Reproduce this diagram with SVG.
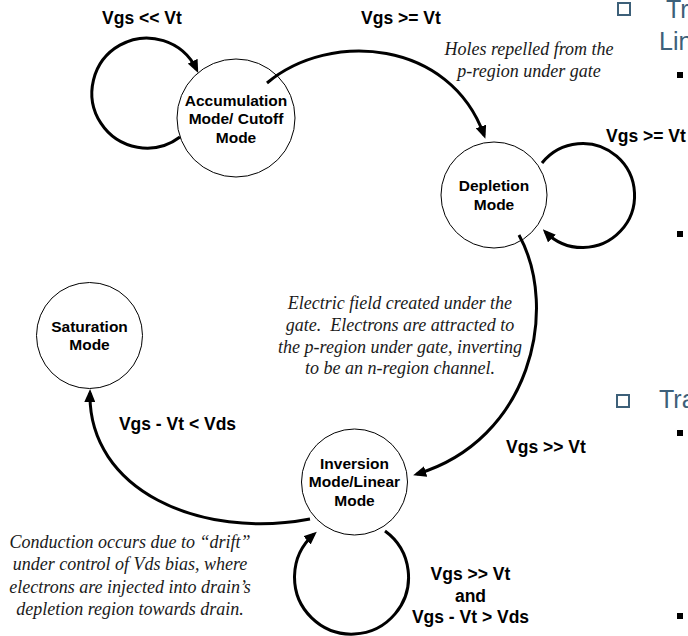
<svg xmlns="http://www.w3.org/2000/svg" width="688" height="636" viewBox="0 0 688 636">
<style>
.bg{fill:#fff}
.node circle{fill:none;stroke:#000;stroke-width:1}
.nt{font-family:"Liberation Sans",Arial,sans-serif;font-weight:bold;font-size:15.5px;text-anchor:middle;fill:#000}
.lbl{font-family:"Liberation Sans",Arial,sans-serif;font-weight:bold;font-size:17.5px;text-anchor:middle;fill:#000}
.note{font-family:"Liberation Serif","Times New Roman",serif;font-style:italic;font-size:18px;text-anchor:middle;fill:#1a1a1a}
.conn path{fill:none;stroke:#000;stroke-width:3}
.slide{font-family:"Liberation Sans",Arial,sans-serif;font-size:25px;fill:#3d6079}
.hb{fill:#fff;stroke:#3d6079;stroke-width:2}
.sb{fill:#000}
</style>
<defs>
<marker id="ah" markerUnits="userSpaceOnUse" markerWidth="13" markerHeight="11" viewBox="0 0 13 11" refX="9" refY="5.5" orient="auto">
<path d="M0,0 L13,5.5 L0,11 z" fill="#000"/>
</marker>
</defs>
<rect class="bg" x="0" y="0" width="688" height="636"/>

<g id="slide-bg">
<rect class="hb" x="618" y="3" width="12" height="12"/>
<text class="slide" x="666" y="18">Tr</text>
<text class="slide" x="659" y="50">Lin</text>
<rect class="sb" x="677" y="72" width="6" height="6"/>
<rect class="sb" x="677" y="231" width="6" height="6"/>
<rect class="hb" x="617" y="395" width="12" height="12"/>
<text class="slide" x="659" y="408">Tra</text>
<rect class="sb" x="677" y="430" width="6" height="6"/>
<rect class="sb" x="677" y="613" width="6" height="6"/>
</g>

<g id="accumulation" class="node">
<circle cx="236" cy="118" r="59"/>
<text class="nt" x="236" y="105.5">Accumulation</text>
<text class="nt" x="236" y="124">Mode/ Cutoff</text>
<text class="nt" x="236" y="142.5">Mode</text>
</g>
<g id="depletion" class="node">
<circle cx="494" cy="195" r="53"/>
<text class="nt" x="494" y="191">Depletion</text>
<text class="nt" x="494" y="210">Mode</text>
</g>
<g id="saturation" class="node">
<circle cx="89.5" cy="335.5" r="53"/>
<text class="nt" x="89.5" y="332">Saturation</text>
<text class="nt" x="89.5" y="350">Mode</text>
</g>
<g id="inversion" class="node">
<circle cx="354.5" cy="482" r="53"/>
<text class="nt" x="354.5" y="469">Inversion</text>
<text class="nt" x="354.5" y="487">Mode/Linear</text>
<text class="nt" x="354.5" y="506">Mode</text>
</g>

<g id="connectors" class="conn">
<path d="M180,137 A55,55 0 1 1 196.5,69.3" marker-end="url(#ah)"/>
<path d="M267,83 C330,30 450,40 484,135" marker-end="url(#ah)"/>
<path d="M542,163 A52,52 0 1 1 545.6,232.1" marker-end="url(#ah)"/>
<path d="M519,235 C560,310 530,440 417,474" marker-end="url(#ah)"/>
<path d="M310,519 C200,540 88,490 90,393" marker-end="url(#ah)"/>
<path d="M385,531 A57,57 0 1 1 313.8,534.4" marker-end="url(#ah)"/>
</g>

<g id="labels">
<text class="lbl" x="142" y="24">Vgs &lt;&lt; Vt</text>
<text class="lbl" x="401" y="24">Vgs &gt;= Vt</text>
<text class="lbl" x="646" y="142">Vgs &gt;= Vt</text>
<text class="lbl" x="546" y="453">Vgs &gt;&gt; Vt</text>
<text class="lbl" x="177.5" y="430">Vgs - Vt &lt; Vds</text>
<text class="lbl" x="470.5" y="580">Vgs &gt;&gt; Vt</text>
<text class="lbl" x="470.5" y="601.5">and</text>
<text class="lbl" x="470.5" y="622.5">Vgs - Vt &gt; Vds</text>
</g>

<g id="notes">
<text class="note" x="529" y="55">Holes repelled from the</text>
<text class="note" x="529" y="77">p-region under gate</text>
<text class="note" x="400" y="309">Electric field created under the</text>
<text class="note" x="400" y="331" xml:space="preserve">gate.  Electrons are attracted to</text>
<text class="note" x="400" y="352.5">the p-region under gate, inverting</text>
<text class="note" x="400" y="374">to be an n-region channel.</text>
<text class="note" x="130" y="548">Conduction occurs due to “drift”</text>
<text class="note" x="130" y="570">under control of Vds bias, where</text>
<text class="note" x="130" y="592.5">electrons are injected into drain’s</text>
<text class="note" x="130" y="615">depletion region towards drain.</text>
</g>
</svg>
